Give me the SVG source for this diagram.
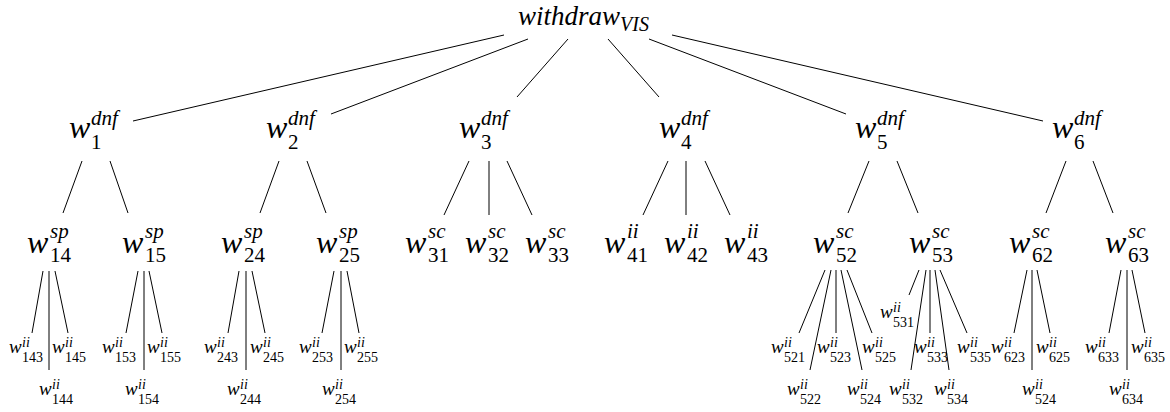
<svg xmlns="http://www.w3.org/2000/svg" width="1170" height="412" viewBox="0 0 1170 412">
  <style>
    text { font-family: "Liberation Serif", "Times New Roman", serif; font-style: italic; fill: #000; }
    .root { font-size: 27px; }
    .rs { font-size: 20px; }
    .m { font-size: 32px; }
    .s { font-size: 21px; }
    .lf { font-size: 19px; }
    .ls { font-size: 14px; }
    .up { font-style: normal; }
    #edges line { stroke: #000; stroke-width: 1; fill: none; }
  </style>
  <rect width="1170" height="412" fill="#fff"/>

  <g id="edges">
    <!-- root to first level -->
    <line x1="504" y1="35" x2="133" y2="121"/>
    <line x1="528" y1="39" x2="331" y2="114"/>
    <line x1="568" y1="39" x2="517" y2="97"/>
    <line x1="608" y1="39" x2="659" y2="97"/>
    <line x1="649" y1="39" x2="846" y2="114"/>
    <line x1="672" y1="35" x2="1043" y2="121"/>
    <!-- first level to second level -->
    <line x1="82" y1="161" x2="63" y2="213"/>
    <line x1="110" y1="161" x2="128" y2="213"/>
    <line x1="279" y1="161" x2="260" y2="213"/>
    <line x1="307" y1="161" x2="326" y2="213"/>
    <line x1="469" y1="161" x2="444" y2="215"/>
    <line x1="489" y1="161" x2="489" y2="215"/>
    <line x1="507" y1="161" x2="532" y2="215"/>
    <line x1="668" y1="161" x2="643" y2="215"/>
    <line x1="686" y1="161" x2="686" y2="215"/>
    <line x1="705" y1="161" x2="730" y2="215"/>
    <line x1="869" y1="161" x2="848" y2="213"/>
    <line x1="897" y1="161" x2="918" y2="213"/>
    <line x1="1066" y1="161" x2="1046" y2="213"/>
    <line x1="1093" y1="161" x2="1113" y2="213"/>
    <!-- second level to leaves -->
    <line x1="43" y1="271" x2="32" y2="333"/>
    <line x1="49" y1="271" x2="49" y2="370"/>
    <line x1="55" y1="271" x2="68" y2="333"/>
    <line x1="138" y1="271" x2="126" y2="333"/>
    <line x1="144" y1="271" x2="144" y2="370"/>
    <line x1="149" y1="271" x2="162" y2="333"/>
    <line x1="239" y1="271" x2="228" y2="333"/>
    <line x1="246" y1="271" x2="246" y2="370"/>
    <line x1="252" y1="271" x2="265" y2="333"/>
    <line x1="334" y1="271" x2="322" y2="333"/>
    <line x1="341" y1="271" x2="341" y2="370"/>
    <line x1="347" y1="271" x2="359" y2="333"/>
    <line x1="825" y1="270" x2="799" y2="333"/>
    <line x1="831" y1="270" x2="810" y2="370"/>
    <line x1="836" y1="270" x2="836" y2="333"/>
    <line x1="841" y1="270" x2="862" y2="370"/>
    <line x1="847" y1="270" x2="872" y2="333"/>
    <line x1="919" y1="270" x2="909" y2="295"/>
    <line x1="926" y1="270" x2="911" y2="370"/>
    <line x1="930" y1="270" x2="930" y2="333"/>
    <line x1="935" y1="270" x2="949" y2="370"/>
    <line x1="940" y1="270" x2="967" y2="333"/>
    <line x1="1027" y1="270" x2="1014" y2="333"/>
    <line x1="1032" y1="270" x2="1032" y2="370"/>
    <line x1="1037" y1="270" x2="1050" y2="333"/>
    <line x1="1121" y1="270" x2="1109" y2="333"/>
    <line x1="1127" y1="270" x2="1127" y2="370"/>
    <line x1="1132" y1="270" x2="1145" y2="333"/>
  </g>

  <!-- root -->
  <g id="root">
    <text class="root"><tspan x="518" y="25">withdraw</tspan><tspan class="rs" x="620" y="31">VIS</tspan></text>
  </g>

  <!-- first level -->
  <g id="w1"><text class="m"><tspan x="69" y="138">w</tspan><tspan class="s" x="91" y="125">dnf</tspan><tspan class="s up" x="91" y="149">1</tspan></text></g>
  <g id="w2"><text class="m"><tspan x="266" y="138">w</tspan><tspan class="s" x="288" y="125">dnf</tspan><tspan class="s up" x="288" y="149">2</tspan></text></g>
  <g id="w3"><text class="m"><tspan x="459" y="138">w</tspan><tspan class="s" x="481" y="125">dnf</tspan><tspan class="s up" x="481" y="149">3</tspan></text></g>
  <g id="w4"><text class="m"><tspan x="659" y="138">w</tspan><tspan class="s" x="681" y="125">dnf</tspan><tspan class="s up" x="681" y="149">4</tspan></text></g>
  <g id="w5"><text class="m"><tspan x="855" y="138">w</tspan><tspan class="s" x="877" y="125">dnf</tspan><tspan class="s up" x="877" y="149">5</tspan></text></g>
  <g id="w6"><text class="m"><tspan x="1052" y="138">w</tspan><tspan class="s" x="1074" y="125">dnf</tspan><tspan class="s up" x="1074" y="149">6</tspan></text></g>

  <!-- second level -->
  <g id="w14"><text class="m"><tspan x="27" y="253">w</tspan><tspan class="s" x="50" y="238">sp</tspan><tspan class="s up" x="50" y="262">14</tspan></text></g>
  <g id="w15"><text class="m"><tspan x="122" y="253">w</tspan><tspan class="s" x="145" y="238">sp</tspan><tspan class="s up" x="145" y="262">15</tspan></text></g>
  <g id="w24"><text class="m"><tspan x="221" y="253">w</tspan><tspan class="s" x="244" y="238">sp</tspan><tspan class="s up" x="244" y="262">24</tspan></text></g>
  <g id="w25"><text class="m"><tspan x="316" y="253">w</tspan><tspan class="s" x="339" y="238">sp</tspan><tspan class="s up" x="339" y="262">25</tspan></text></g>
  <g id="w31"><text class="m"><tspan x="405" y="253">w</tspan><tspan class="s" x="428" y="238">sc</tspan><tspan class="s up" x="428" y="262">31</tspan></text></g>
  <g id="w32"><text class="m"><tspan x="465" y="253">w</tspan><tspan class="s" x="488" y="238">sc</tspan><tspan class="s up" x="488" y="262">32</tspan></text></g>
  <g id="w33"><text class="m"><tspan x="525" y="253">w</tspan><tspan class="s" x="548" y="238">sc</tspan><tspan class="s up" x="548" y="262">33</tspan></text></g>
  <g id="w41"><text class="m"><tspan x="604" y="253">w</tspan><tspan class="s" x="627" y="238">ii</tspan><tspan class="s up" x="627" y="262">41</tspan></text></g>
  <g id="w42"><text class="m"><tspan x="664" y="253">w</tspan><tspan class="s" x="687" y="238">ii</tspan><tspan class="s up" x="687" y="262">42</tspan></text></g>
  <g id="w43"><text class="m"><tspan x="724" y="253">w</tspan><tspan class="s" x="747" y="238">ii</tspan><tspan class="s up" x="747" y="262">43</tspan></text></g>
  <g id="w52"><text class="m"><tspan x="813" y="253">w</tspan><tspan class="s" x="836" y="238">sc</tspan><tspan class="s up" x="836" y="262">52</tspan></text></g>
  <g id="w53"><text class="m"><tspan x="909" y="253">w</tspan><tspan class="s" x="932" y="238">sc</tspan><tspan class="s up" x="932" y="262">53</tspan></text></g>
  <g id="w62"><text class="m"><tspan x="1009" y="253">w</tspan><tspan class="s" x="1032" y="238">sc</tspan><tspan class="s up" x="1032" y="262">62</tspan></text></g>
  <g id="w63"><text class="m"><tspan x="1105" y="253">w</tspan><tspan class="s" x="1128" y="238">sc</tspan><tspan class="s up" x="1128" y="262">63</tspan></text></g>

  <!-- leaves -->
  <g id="w143"><text class="lf"><tspan x="9" y="353">w</tspan><tspan class="ls" x="22" y="347">ii</tspan><tspan class="ls up" x="22" y="362">143</tspan></text></g>
  <g id="w144"><text class="lf"><tspan x="39" y="395">w</tspan><tspan class="ls" x="52" y="389">ii</tspan><tspan class="ls up" x="52" y="404">144</tspan></text></g>
  <g id="w145"><text class="lf"><tspan x="52" y="353">w</tspan><tspan class="ls" x="65" y="347">ii</tspan><tspan class="ls up" x="65" y="362">145</tspan></text></g>
  <g id="w153"><text class="lf"><tspan x="102" y="353">w</tspan><tspan class="ls" x="115" y="347">ii</tspan><tspan class="ls up" x="115" y="362">153</tspan></text></g>
  <g id="w154"><text class="lf"><tspan x="125" y="395">w</tspan><tspan class="ls" x="138" y="389">ii</tspan><tspan class="ls up" x="138" y="404">154</tspan></text></g>
  <g id="w155"><text class="lf"><tspan x="147" y="353">w</tspan><tspan class="ls" x="160" y="347">ii</tspan><tspan class="ls up" x="160" y="362">155</tspan></text></g>
  <g id="w243"><text class="lf"><tspan x="204" y="353">w</tspan><tspan class="ls" x="217" y="347">ii</tspan><tspan class="ls up" x="217" y="362">243</tspan></text></g>
  <g id="w244"><text class="lf"><tspan x="227" y="395">w</tspan><tspan class="ls" x="240" y="389">ii</tspan><tspan class="ls up" x="240" y="404">244</tspan></text></g>
  <g id="w245"><text class="lf"><tspan x="250" y="353">w</tspan><tspan class="ls" x="263" y="347">ii</tspan><tspan class="ls up" x="263" y="362">245</tspan></text></g>
  <g id="w253"><text class="lf"><tspan x="299" y="353">w</tspan><tspan class="ls" x="312" y="347">ii</tspan><tspan class="ls up" x="312" y="362">253</tspan></text></g>
  <g id="w254"><text class="lf"><tspan x="322" y="395">w</tspan><tspan class="ls" x="335" y="389">ii</tspan><tspan class="ls up" x="335" y="404">254</tspan></text></g>
  <g id="w255"><text class="lf"><tspan x="344" y="353">w</tspan><tspan class="ls" x="357" y="347">ii</tspan><tspan class="ls up" x="357" y="362">255</tspan></text></g>
  <g id="w521"><text class="lf"><tspan x="771" y="353">w</tspan><tspan class="ls" x="784" y="347">ii</tspan><tspan class="ls up" x="784" y="362">521</tspan></text></g>
  <g id="w522"><text class="lf"><tspan x="787" y="395">w</tspan><tspan class="ls" x="800" y="389">ii</tspan><tspan class="ls up" x="800" y="404">522</tspan></text></g>
  <g id="w523"><text class="lf"><tspan x="817" y="353">w</tspan><tspan class="ls" x="830" y="347">ii</tspan><tspan class="ls up" x="830" y="362">523</tspan></text></g>
  <g id="w524a"><text class="lf"><tspan x="847" y="395">w</tspan><tspan class="ls" x="860" y="389">ii</tspan><tspan class="ls up" x="860" y="404">524</tspan></text></g>
  <g id="w525"><text class="lf"><tspan x="862" y="353">w</tspan><tspan class="ls" x="875" y="347">ii</tspan><tspan class="ls up" x="875" y="362">525</tspan></text></g>
  <g id="w531"><text class="lf"><tspan x="880" y="318">w</tspan><tspan class="ls" x="893" y="312">ii</tspan><tspan class="ls up" x="893" y="327">531</tspan></text></g>
  <g id="w532"><text class="lf"><tspan x="889" y="395">w</tspan><tspan class="ls" x="902" y="389">ii</tspan><tspan class="ls up" x="902" y="404">532</tspan></text></g>
  <g id="w533"><text class="lf"><tspan x="914" y="353">w</tspan><tspan class="ls" x="927" y="347">ii</tspan><tspan class="ls up" x="927" y="362">533</tspan></text></g>
  <g id="w534"><text class="lf"><tspan x="934" y="395">w</tspan><tspan class="ls" x="947" y="389">ii</tspan><tspan class="ls up" x="947" y="404">534</tspan></text></g>
  <g id="w535"><text class="lf"><tspan x="957" y="353">w</tspan><tspan class="ls" x="970" y="347">ii</tspan><tspan class="ls up" x="970" y="362">535</tspan></text></g>
  <g id="w623"><text class="lf"><tspan x="991" y="353">w</tspan><tspan class="ls" x="1004" y="347">ii</tspan><tspan class="ls up" x="1004" y="362">623</tspan></text></g>
  <g id="w524b"><text class="lf"><tspan x="1022" y="395">w</tspan><tspan class="ls" x="1035" y="389">ii</tspan><tspan class="ls up" x="1035" y="404">524</tspan></text></g>
  <g id="w625"><text class="lf"><tspan x="1036" y="353">w</tspan><tspan class="ls" x="1049" y="347">ii</tspan><tspan class="ls up" x="1049" y="362">625</tspan></text></g>
  <g id="w633"><text class="lf"><tspan x="1085" y="353">w</tspan><tspan class="ls" x="1098" y="347">ii</tspan><tspan class="ls up" x="1098" y="362">633</tspan></text></g>
  <g id="w634"><text class="lf"><tspan x="1109" y="395">w</tspan><tspan class="ls" x="1122" y="389">ii</tspan><tspan class="ls up" x="1122" y="404">634</tspan></text></g>
  <g id="w635"><text class="lf"><tspan x="1131" y="353">w</tspan><tspan class="ls" x="1144" y="347">ii</tspan><tspan class="ls up" x="1144" y="362">635</tspan></text></g>
</svg>
